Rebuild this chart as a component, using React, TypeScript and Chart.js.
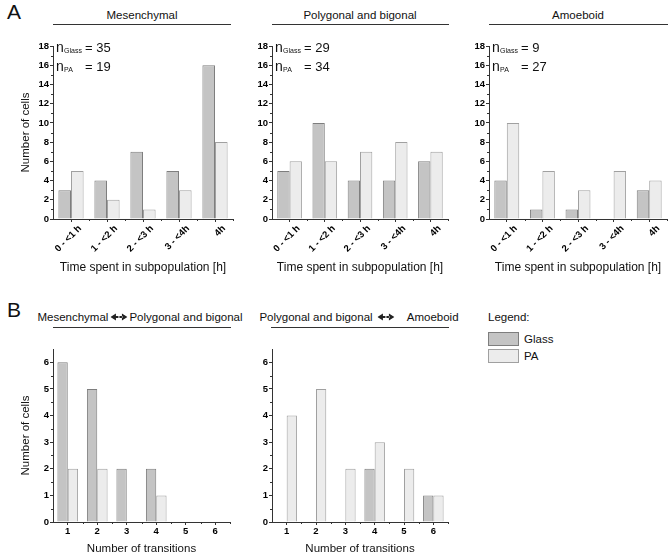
import React, { useEffect, useRef } from 'react';
import Chart from 'chart.js/auto';

const FONT = '"Liberation Sans", Arial, sans-serif';

// time spent in subpopulation (panel A)
const timeLabels = ['0 - <1 h', '1 - <2 h', '2 - <3 h', '3 - <4h', '4h'];
const mesGlass = [3, 4, 7, 5, 16];
const mesPA = [5, 2, 1, 3, 8];
const polyGlass = [5, 10, 4, 4, 6];
const polyPA = [6, 6, 7, 8, 7];
const amoGlass = [4, 1, 1, 0, 3];
const amoPA = [10, 5, 3, 5, 4];
const nGlass = [35, 29, 9];
const nPA = [19, 34, 27];

// number of transitions (panel B)
const transLabels = ['1', '2', '3', '4', '5', '6'];
const mpGlass = [6, 5, 2, 2, 0, 0];
const mpPA = [2, 2, 0, 1, 0, 0];
const paGlass = [0, 0, 0, 2, 0, 1];
const paPA = [4, 5, 2, 3, 2, 1];

const GLASS_FILL = '#c4c4c4';
const GLASS_LINE = '#7e7e7e';
const PA_FILL = '#ececec';
const PA_LINE = '#a0a0a0';
const AXIS = '#333';

// small ticks between the labelled ones
const minorTicks = {
  id: 'minorTicks',
  afterDraw(chart: any, _args: any, opts: any) {
    const { ctx } = chart;
    const y = chart.scales.y;
    const x = chart.scales.x;
    ctx.save();
    ctx.strokeStyle = AXIS;
    ctx.lineWidth = 1;
    ctx.beginPath();
    for (let v = opts.step / 2; v < y.max - 1e-6; v += opts.step) {
      const py = Math.round(y.getPixelForValue(v)) + 0.5;
      ctx.moveTo(y.right - 2, py);
      ctx.lineTo(y.right, py);
    }
    for (let i = 1; i <= x.ticks.length; i++) {
      const px = Math.round(x.getPixelForValue(i - 0.5)) + 0.5;
      ctx.moveTo(px, x.top);
      ctx.lineTo(px, x.top + 2);
    }
    ctx.stroke();
    ctx.restore();
  },
};

type PanelProps = {
  left: number;
  top: number;
  width: number;
  height: number;
  labels: string[];
  glass: number[];
  pa: number[];
  yMax: number;
  yStep: number;
  yWidth: number;
  padTop: number;
  padRight: number;
  xHeight: number;
  xTitle: string;
  yTitle?: string;
  rotate?: boolean;
};

const BarPanel: React.FC<PanelProps> = (p) => {
  const canvasRef = useRef<HTMLCanvasElement>(null);
  const chartRef = useRef<Chart>();

  useEffect(() => {
    if (!canvasRef.current) return;
    if (chartRef.current) chartRef.current.destroy();
    const tickFont = { family: FONT, size: 9.5, weight: 'bold' as const };
    chartRef.current = new Chart(canvasRef.current, {
      type: 'bar',
      data: {
        labels: p.labels,
        datasets: [
          {
            label: 'Glass',
            data: p.glass,
            backgroundColor: GLASS_FILL,
            borderColor: GLASS_LINE,
            borderWidth: 1,
            categoryPercentage: 0.7,
            barPercentage: 1,
          },
          {
            label: 'PA',
            data: p.pa,
            backgroundColor: PA_FILL,
            borderColor: PA_LINE,
            borderWidth: 1,
            categoryPercentage: 0.7,
            barPercentage: 1,
          },
        ],
      },
      options: {
        animation: false,
        responsive: false,
        maintainAspectRatio: false,
        layout: { padding: { left: 0, top: p.padTop, right: p.padRight, bottom: 0 } },
        plugins: {
          legend: { display: false },
          tooltip: { enabled: false },
          minorTicks: { step: p.yStep },
        } as any,
        scales: {
          x: {
            grid: { drawOnChartArea: false, offset: false, tickLength: 3, color: AXIS, tickColor: AXIS },
            border: { display: true, color: AXIS, width: 1 },
            ticks: {
              color: '#000',
              font: tickFont,
              autoSkip: false,
              maxRotation: p.rotate ? 45 : 0,
              minRotation: p.rotate ? 45 : 0,
              padding: 1,
              labelOffset: p.rotate ? 9 : 0,
            },
            title: {
              display: true,
              text: p.xTitle,
              color: '#111',
              font: { family: FONT, size: p.rotate ? 12 : 11.5 },
              padding: { top: 0, bottom: 0 },
            },
            afterFit: (s: any) => {
              s.height = p.xHeight;
            },
          },
          y: {
            min: 0,
            max: p.yMax,
            grid: { drawOnChartArea: false, tickLength: 3, color: AXIS, tickColor: AXIS },
            border: { display: true, color: AXIS, width: 1 },
            ticks: { stepSize: p.yStep, includeBounds: false, color: '#000', font: tickFont, padding: 1 },
            title: p.yTitle
              ? {
                  display: true,
                  text: p.yTitle,
                  color: '#111',
                  font: { family: FONT, size: 11.5 },
                  padding: { top: 19, bottom: 0 },
                }
              : { display: false },
            afterFit: (s: any) => {
              s.width = p.yWidth;
            },
          },
        },
      },
      plugins: [minorTicks],
    } as any);
    return () => {
      if (chartRef.current) {
        chartRef.current.destroy();
        chartRef.current = undefined;
      }
    };
  }, []);

  return (
    <canvas
      ref={canvasRef}
      width={p.width}
      height={p.height}
      style={{ position: 'absolute', left: p.left, top: p.top, width: p.width, height: p.height }}
    />
  );
};

const Centered: React.FC<{ cx: number; cy: number; size: number; children: React.ReactNode }> = ({ cx, cy, size, children }) => (
  <div
    style={{
      position: 'absolute',
      left: cx,
      top: cy - 8,
      lineHeight: '16px',
      fontSize: size,
      transform: 'translateX(-50%)',
      whiteSpace: 'nowrap',
      color: '#111',
    }}
  >
    {children}
  </div>
);

const Rule: React.FC<{ x1: number; x2: number; y: number }> = ({ x1, x2, y }) => (
  <div style={{ position: 'absolute', left: x1, top: y, width: x2 - x1, height: 1, background: AXIS }} />
);

// the double arrow between the two subpopulation names
const Arrows = () => (
  <svg width={17} height={8} viewBox="0 0 17 8" style={{ display: 'inline-block', verticalAlign: 'middle', margin: '0 2px 1px 2px' }}>
    <path d="M0 4 L5.5 0.5 L5.5 7.5 Z M5 3 H8 V5 H5 Z" fill="#222" />
    <path d="M17 4 L11.5 0.5 L11.5 7.5 Z M9 3 H12 V5 H9 Z" fill="#222" />
  </svg>
);

const NLabel: React.FC<{ axisX: number; glass: number; pa: number }> = ({ axisX, glass, pa }) => {
  const row = (sub: string, value: number, cy: number) => (
    <div style={{ position: 'absolute', left: axisX + 3, top: cy - 9, height: 18, width: 80 }}>
      <span style={{ position: 'absolute', left: 0, top: 0, fontSize: 14, lineHeight: '16px' }}>n</span>
      <span style={{ position: 'absolute', left: 8, top: 7, fontSize: 7, lineHeight: '9px' }}>{sub}</span>
      <span style={{ position: 'absolute', left: 29, top: 1, fontSize: 13, lineHeight: '16px' }}>= {value}</span>
    </div>
  );
  return (
    <>
      {row('Glass', glass, 48)}
      {row('PA', pa, 67)}
    </>
  );
};

const App: React.FC = () => {
  return (
    <div
      style={{
        position: 'absolute',
        left: 0,
        top: 0,
        width: 669,
        height: 553,
        overflow: 'hidden',
        background: '#fff',
        fontFamily: FONT,
        color: '#111',
      }}
    >
      <div style={{ position: 'absolute', left: 7, top: 0, fontSize: 21, lineHeight: '24px' }}>A</div>
      <div style={{ position: 'absolute', left: 7, top: 298, fontSize: 21, lineHeight: '24px' }}>B</div>

      <Centered cx={142} cy={15} size={11.5}>Mesenchymal</Centered>
      <Rule x1={53} x2={231} y={24} />
      <Centered cx={360} cy={15} size={11.5}>Polygonal and bigonal</Centered>
      <Rule x1={272} x2={449} y={24} />
      <Centered cx={578} cy={15} size={11.5}>Amoeboid</Centered>
      <Rule x1={489} x2={668} y={24} />

      <Centered cx={140} cy={317} size={11.5}>
        Mesenchymal<Arrows />Polygonal and bigonal
      </Centered>
      <Rule x1={53} x2={231} y={327} />
      <Centered cx={359} cy={317} size={11.5}>
        Polygonal and bigonal <Arrows />
        <span style={{ marginLeft: 10 }}>Amoeboid</span>
      </Centered>
      <Rule x1={271} x2={449} y={327} />

      <div style={{ position: 'absolute', left: 488, top: 309, fontSize: 11.5, lineHeight: '16px' }}>Legend:</div>
      <div style={{ position: 'absolute', left: 488, top: 332, width: 29, height: 12, background: GLASS_FILL, border: `1px solid ${GLASS_LINE}` }} />
      <div style={{ position: 'absolute', left: 524, top: 331, fontSize: 11.5, lineHeight: '16px' }}>Glass</div>
      <div style={{ position: 'absolute', left: 488, top: 349, width: 29, height: 12, background: PA_FILL, border: `1px solid ${PA_LINE}` }} />
      <div style={{ position: 'absolute', left: 524, top: 348, fontSize: 11.5, lineHeight: '16px' }}>PA</div>

      <BarPanel
        left={0} top={0} width={240} height={275}
        labels={timeLabels} glass={mesGlass} pa={mesPA}
        yMax={18} yStep={2} yWidth={53} padTop={46} padRight={7} xHeight={56}
        xTitle="Time spent in subpopulation [h]" yTitle="Number of cells" rotate
      />
      <BarPanel
        left={240} top={0} width={215} height={275}
        labels={timeLabels} glass={polyGlass} pa={polyPA}
        yMax={18} yStep={2} yWidth={32} padTop={46} padRight={7} xHeight={56}
        xTitle="Time spent in subpopulation [h]" rotate
      />
      <BarPanel
        left={455} top={0} width={214} height={275}
        labels={timeLabels} glass={amoGlass} pa={amoPA}
        yMax={18} yStep={2} yWidth={34} padTop={46} padRight={2} xHeight={56}
        xTitle="Time spent in subpopulation [h]" rotate
      />
      <BarPanel
        left={0} top={300} width={240} height={256}
        labels={transLabels} glass={mpGlass} pa={mpPA}
        yMax={6.5} yStep={1} yWidth={53} padTop={49} padRight={10} xHeight={34}
        xTitle="Number of transitions" yTitle="Number of cells"
      />
      <BarPanel
        left={240} top={300} width={215} height={256}
        labels={transLabels} glass={paGlass} pa={paPA}
        yMax={6.5} yStep={1} yWidth={32} padTop={49} padRight={7} xHeight={34}
        xTitle="Number of transitions"
      />

      <NLabel axisX={53} glass={nGlass[0]} pa={nPA[0]} />
      <NLabel axisX={272} glass={nGlass[1]} pa={nPA[1]} />
      <NLabel axisX={489} glass={nGlass[2]} pa={nPA[2]} />
    </div>
  );
};

export default App;
